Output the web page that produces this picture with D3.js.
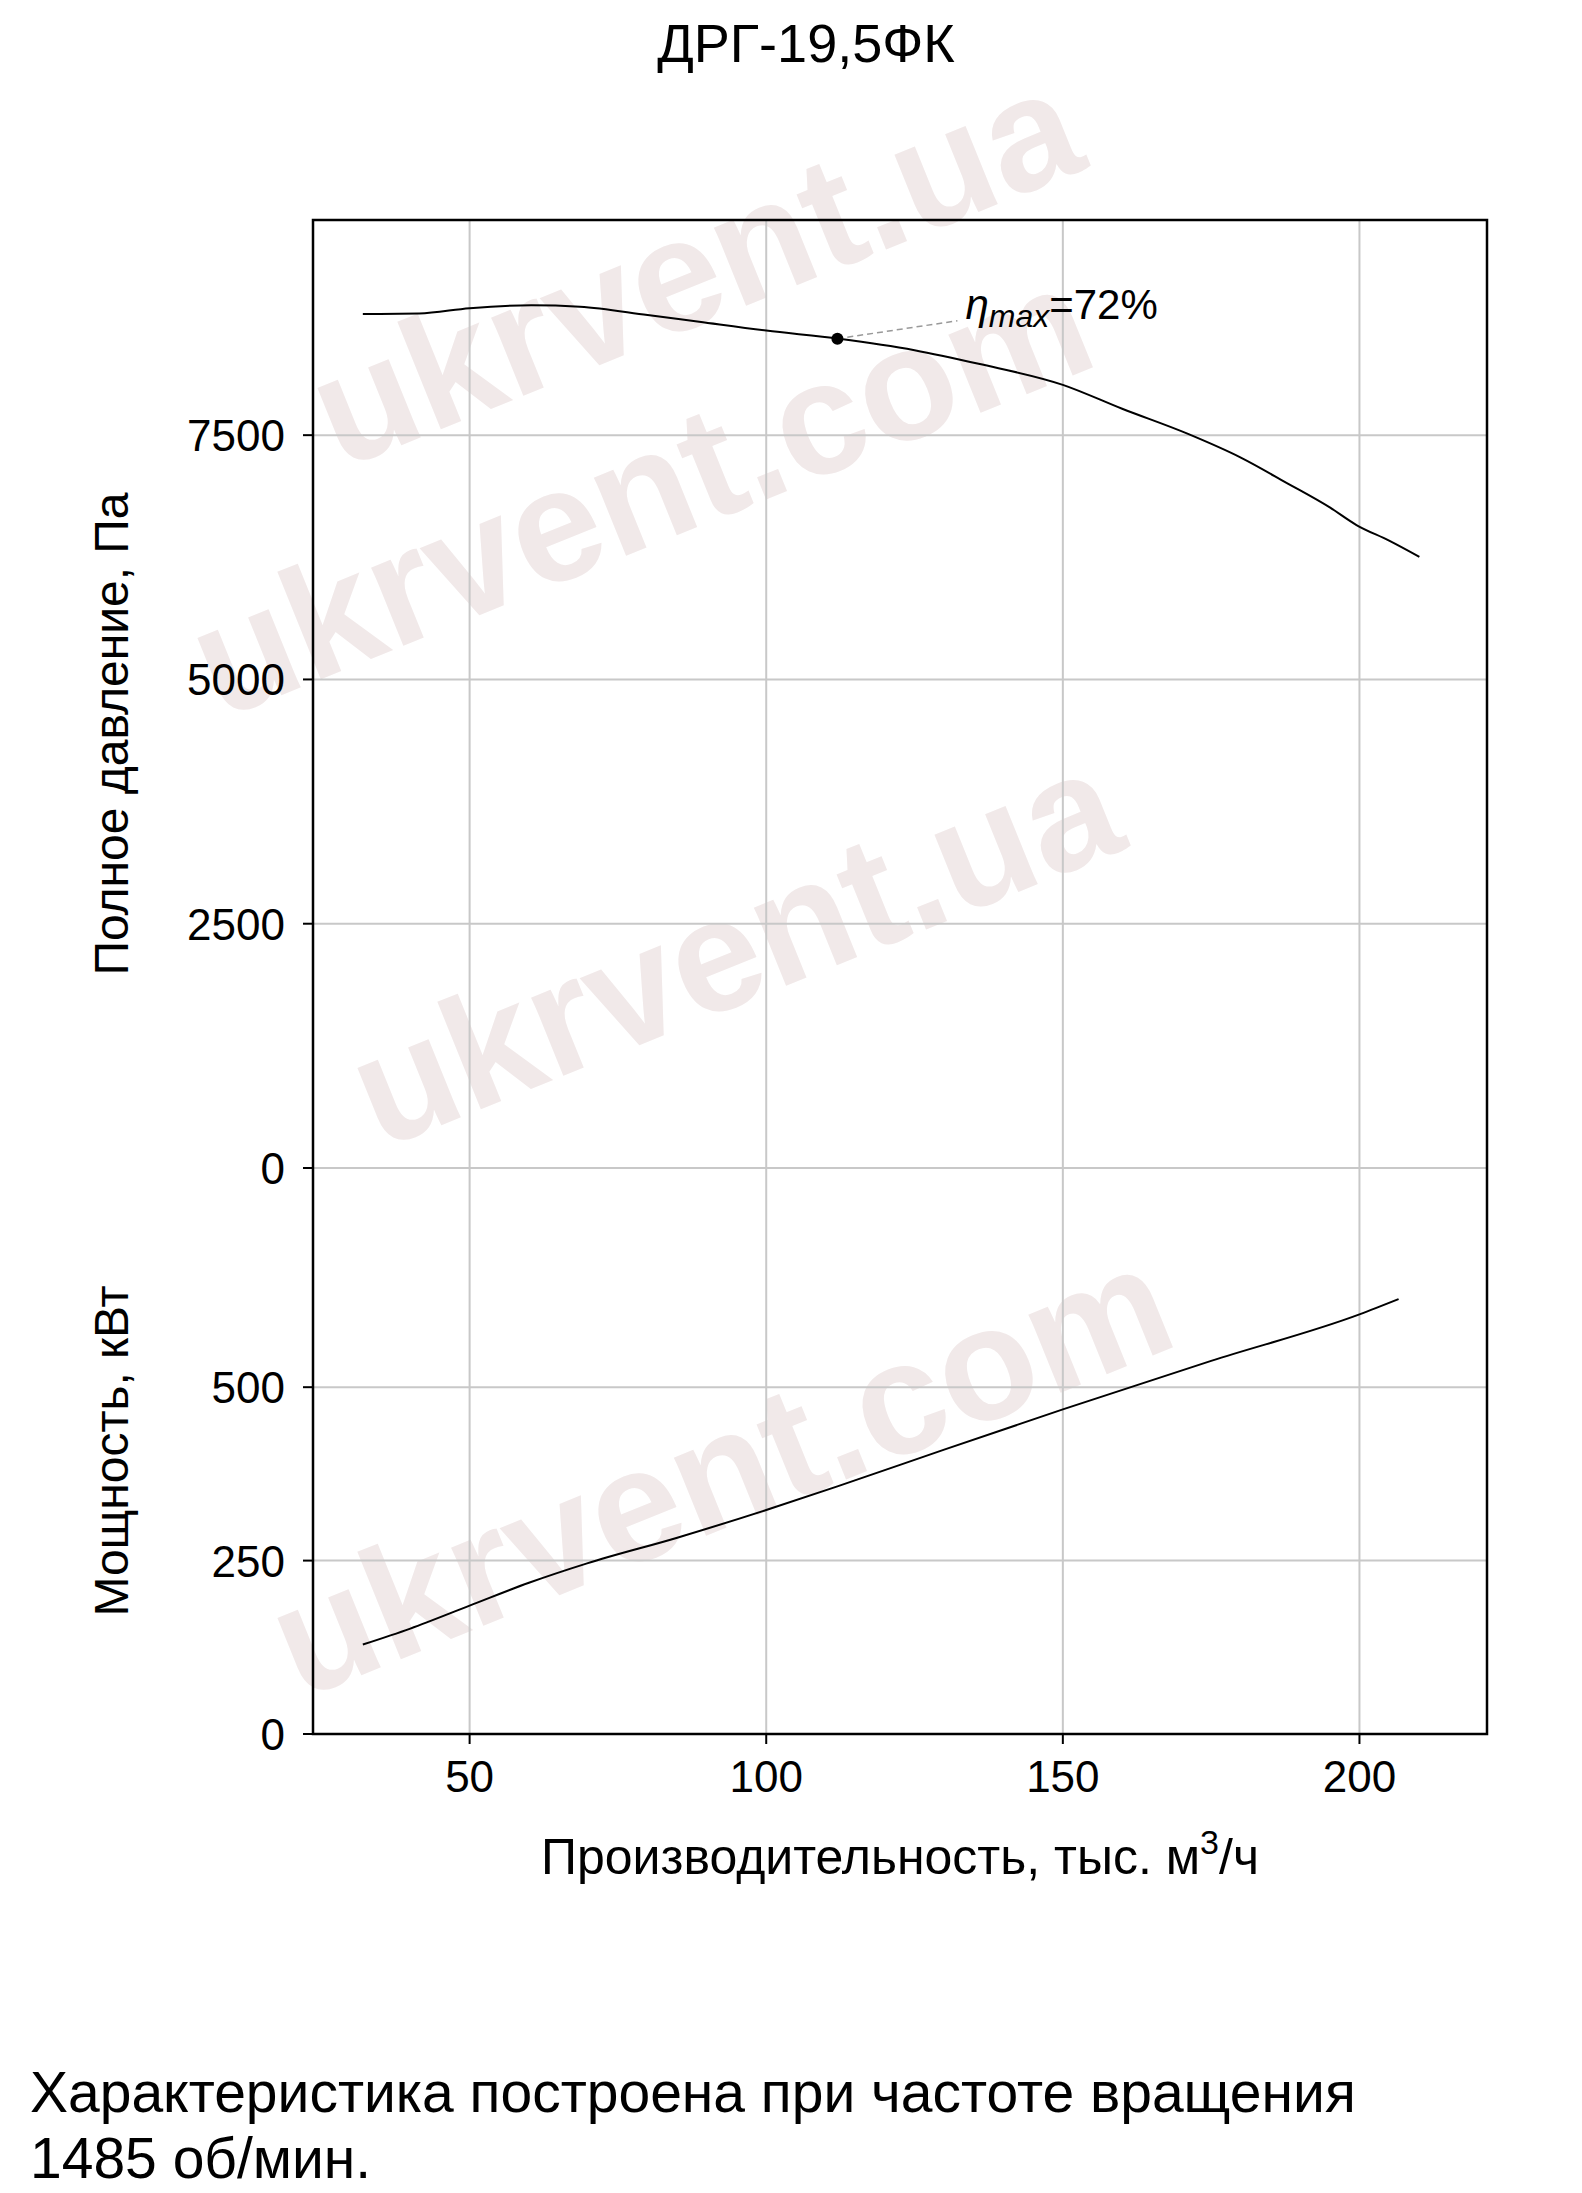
<!DOCTYPE html>
<meta charset="utf-8">
<script src="https://d3js.org/d3.v7.min.js"></script>
<style>
  body { margin: 0; background: #fff; }
  text { font-family: "Liberation Sans", Arial, sans-serif; }
</style>
<div id="chart"></div>
<script>
// flow, thousand m3/h
var pressureFlow = [32, 41.5, 50, 60.4, 68.6, 80, 88.7, 100, 112.3, 125, 135.8, 150, 160, 171, 180, 187.7, 195, 199.5, 205, 210.1];
var pressureVals = [8740, 8745, 8800, 8830, 8815, 8730, 8660, 8570, 8487, 8370, 8230, 8015, 7770, 7515, 7270, 7012, 6760, 6580, 6420, 6254];
var powerFlow = [32, 40, 50, 60, 69.8, 85, 100, 112, 130, 150, 175, 200, 206.6];
var powerVals = [129, 152, 185, 218, 246, 283, 323, 357, 410, 468, 538, 605, 627];
var etaPoint = {flow: 112, p: 8487, label: "=72%"};
var xTicks = [50, 100, 150, 200];
var pTicks = [0, 2500, 5000, 7500];
var nTicks = [0, 250, 500];

var W = 1582, H = 2193;
var L = 313, R = 1487, T = 220, B = 1734, Z = 1168;

var svg = d3.select("#chart").append("svg").attr("width", W).attr("height", H);

// watermarks
var wm = [[220, 720, "ukrvent.com"], [380, 1150, "ukrvent.ua"], [300, 1700, "ukrvent.com"], [340, 470, "ukrvent.ua"]];
svg.selectAll(".wm").data(wm).enter().append("text")
  .attr("transform", function(d) { return "translate(" + d[0] + "," + d[1] + ") rotate(-22)"; })
  .attr("font-size", 160).attr("font-weight", "bold")
  .attr("fill", "#f1e9e9").text(function(d) { return d[2]; });

var x = d3.scaleLinear().domain([23.6, 221.5]).range([L, R]);
var yP = d3.scaleLinear().domain([0, 9702]).range([Z, T]);
var yN = d3.scaleLinear().domain([0, 816]).range([B, Z]);

// grid
svg.selectAll(".gx").data(xTicks).enter().append("line")
  .attr("x1", x).attr("x2", x).attr("y1", T).attr("y2", B)
  .attr("stroke", "#c8c8c8").attr("stroke-width", 2);
svg.selectAll(".gp").data(pTicks).enter().append("line")
  .attr("x1", L).attr("x2", R).attr("y1", yP).attr("y2", yP)
  .attr("stroke", "#c8c8c8").attr("stroke-width", 2);
svg.selectAll(".gn").data(nTicks).enter().append("line")
  .attr("x1", L).attr("x2", R).attr("y1", yN).attr("y2", yN)
  .attr("stroke", "#c8c8c8").attr("stroke-width", 2);

svg.append("rect").attr("x", L).attr("y", T).attr("width", R - L).attr("height", B - T)
  .attr("fill", "none").attr("stroke", "#000").attr("stroke-width", 2.5);

// tick labels
svg.selectAll(".tx").data(xTicks).enter().append("text")
  .attr("x", x).attr("y", B + 58).attr("text-anchor", "middle")
  .attr("font-size", 44).text(function(d) { return d; });
svg.selectAll(".tp").data(pTicks).enter().append("text")
  .attr("x", L - 28).attr("y", function(d) { return yP(d) + 16; }).attr("text-anchor", "end")
  .attr("font-size", 44).text(function(d) { return d; });
svg.selectAll(".tn").data(nTicks).enter().append("text")
  .attr("x", L - 28).attr("y", function(d) { return yN(d) + 16; }).attr("text-anchor", "end")
  .attr("font-size", 44).text(function(d) { return d; });
svg.selectAll(".tk").data(pTicks).enter().append("line")
  .attr("x1", L - 10).attr("x2", L).attr("y1", yP).attr("y2", yP).attr("stroke", "#000").attr("stroke-width", 2);
svg.selectAll(".tk2").data(nTicks).enter().append("line")
  .attr("x1", L - 10).attr("x2", L).attr("y1", yN).attr("y2", yN).attr("stroke", "#000").attr("stroke-width", 2);
svg.selectAll(".tk3").data(xTicks).enter().append("line")
  .attr("x1", x).attr("x2", x).attr("y1", B).attr("y2", B + 10).attr("stroke", "#000").attr("stroke-width", 2);

// curves
var lineP = d3.line().curve(d3.curveMonotoneX)
  .x(function(d, i) { return x(pressureFlow[i]); }).y(function(d) { return yP(d); });
svg.append("path").attr("d", lineP(pressureVals)).attr("fill", "none").attr("stroke", "#000").attr("stroke-width", 2);
var lineN = d3.line().curve(d3.curveMonotoneX)
  .x(function(d, i) { return x(powerFlow[i]); }).y(function(d) { return yN(d); });
svg.append("path").attr("d", lineN(powerVals)).attr("fill", "none").attr("stroke", "#000").attr("stroke-width", 2);

// eta max
var ex = x(etaPoint.flow), ey = yP(etaPoint.p);
svg.append("line").attr("x1", ex).attr("y1", ey).attr("x2", ex + 120).attr("y2", ey - 18)
  .attr("stroke", "#999").attr("stroke-width", 1.5).attr("stroke-dasharray", "6,4");
svg.append("circle").attr("cx", ex).attr("cy", ey).attr("r", 6).attr("fill", "#000");
var et = svg.append("text").attr("x", ex + 128).attr("y", ey - 20).attr("font-size", 42);
et.append("tspan").attr("font-style", "italic").text("η");
et.append("tspan").attr("font-style", "italic").attr("font-size", 32).attr("dy", 8).text("max");
et.append("tspan").attr("dy", -8).text(etaPoint.label);

// labels
svg.append("text").attr("x", 806).attr("y", 62).attr("text-anchor", "middle").attr("font-size", 54).text("ДРГ-19,5ФК");
var xl = svg.append("text").attr("x", 900).attr("y", B + 140).attr("text-anchor", "middle").attr("font-size", 50);
xl.append("tspan").text("Производительность, тыс. м");
xl.append("tspan").attr("font-size", 34).attr("dy", -20).text("3");
xl.append("tspan").attr("dy", 20).text("/ч");
svg.append("text").attr("transform", "translate(128," + ((T + Z) / 2 + 40) + ") rotate(-90)")
  .attr("text-anchor", "middle").attr("font-size", 48).text("Полное давление, Па");
svg.append("text").attr("transform", "translate(128," + ((Z + B) / 2) + ") rotate(-90)")
  .attr("text-anchor", "middle").attr("font-size", 48).text("Мощность, кВт");

svg.append("text").attr("x", 30).attr("y", 2112).attr("font-size", 57).text("Характеристика построена при частоте вращения");
svg.append("text").attr("x", 30).attr("y", 2178).attr("font-size", 57).text("1485 об/мин.");
</script>
